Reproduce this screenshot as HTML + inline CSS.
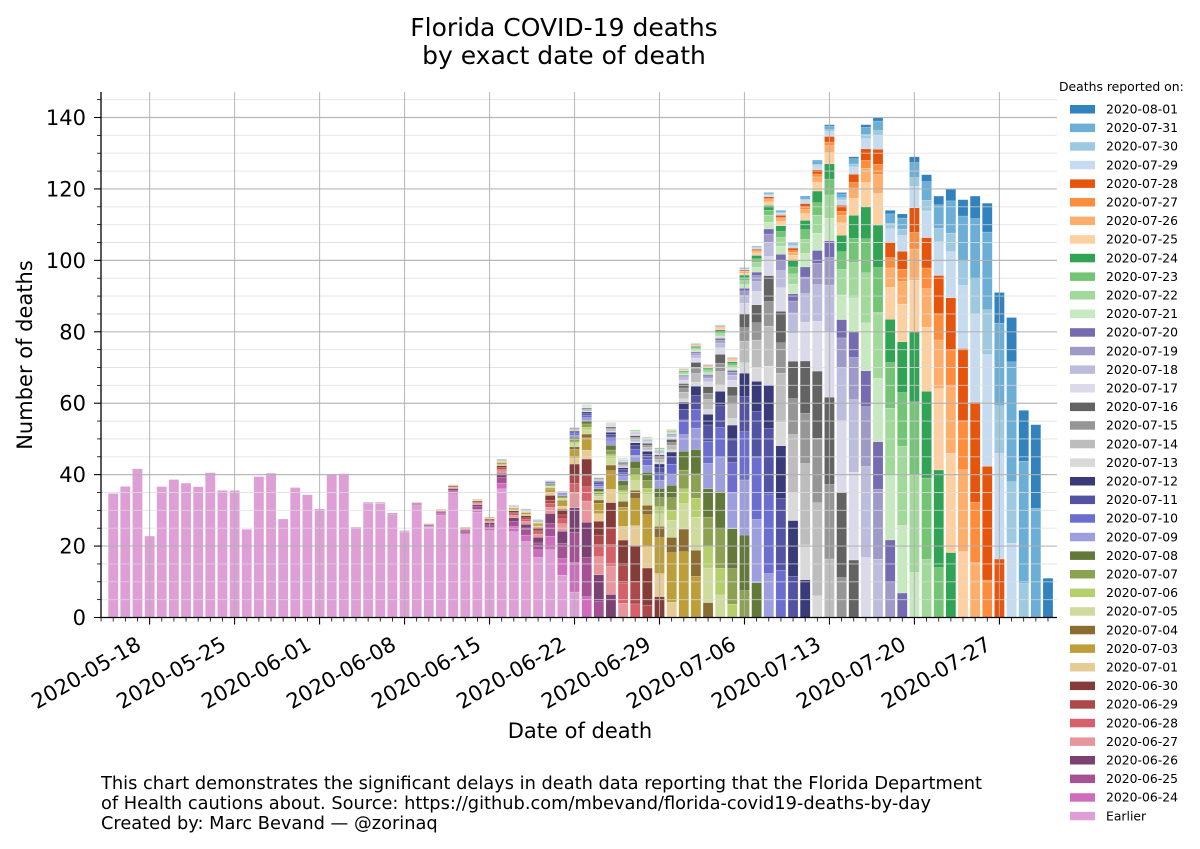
<!DOCTYPE html>
<html><head><meta charset="utf-8"><style>
html,body{margin:0;padding:0;background:#fff;}
svg{display:block;font-family:"DejaVu Sans","Liberation Sans",sans-serif;}
</style></head><body>
<svg id="s" width="1200" height="849" viewBox="0 0 1200 849" xmlns="http://www.w3.org/2000/svg">
<rect width="1200" height="849" fill="#fff"/>
<g id="bars"></g>
<g id="grid"></g>
<g id="axes"></g>
<text x="564" y="36" font-size="25" text-anchor="middle" fill="#000">Florida COVID-19 deaths</text>
<text x="564" y="64" font-size="25" text-anchor="middle" fill="#000">by exact date of death</text>
<text transform="translate(32,355) rotate(-90)" font-size="21" text-anchor="middle" fill="#000">Number of deaths</text>
<text x="580" y="738" font-size="21" text-anchor="middle" fill="#000">Date of death</text>
<text x="101" y="789" font-size="17.8" fill="#000">This chart demonstrates the significant delays in death data reporting that the Florida Department</text>
<text x="101" y="809" font-size="17.8" fill="#000">of Health cautions about. Source: https://github.com/mbevand/florida-covid19-deaths-by-day</text>
<text x="101" y="829" font-size="17.8" fill="#000">Created by: Marc Bevand — @zorinaq</text>
<text x="1059" y="91" font-size="12.4" fill="#000">Deaths reported on:</text>
<g id="legend"></g>
</svg>
<script>
(function(){
var NS="http://www.w3.org/2000/svg";
function el(p,t,a,txt){var e=document.createElementNS(NS,t);for(var k in a)e.setAttribute(k,a[k]);if(txt!=null)e.textContent=txt;p.appendChild(e);return e;}
var T=[35,37,42,23,37,39,38,37,41,36,36,25,40,41,28,37,35,31,41,41,26,33,33,30,25,33,27,31,38,26,34,29,45,32,31,28,39,36,54,
60,40,55,45,53,51,48,53,70,77,71,82,73,98,104,119,114,105,118,128,138,119,129,138,140,114,113,129,124,118,120,117,118,116,91,84,58,54,11];
var list=[
["2020-06-24",40,"#ce6dbd",0.7],["2020-06-25",41,"#a55194",0.8],["2020-06-26",42,"#7b4173",0.8],
["2020-06-27",43,"#e7969c",0.6],["2020-06-28",44,"#d6616b",0.5],["2020-06-29",45,"#ad494a",0.5],["2020-06-30",46,"#843c39",0.9],
["2020-07-01",47,"#e7cb94",0.6],["2020-07-03",49,"#bd9e39",1.3],["2020-07-04",50,"#8c6d31",0.5],
["2020-07-05",51,"#cedb9c",0.7],["2020-07-06",52,"#b5cf6b",0.5],["2020-07-07",53,"#8ca252",0.8],["2020-07-08",54,"#637939",1.0],
["2020-07-09",55,"#9c9ede",1.1],["2020-07-10",56,"#6b6ecf",1.2],["2020-07-11",57,"#5254a3",1.1],["2020-07-12",58,"#393b79",0.9],
["2020-07-13",59,"#d9d9d9",0.5],["2020-07-14",60,"#bdbdbd",1.3],["2020-07-15",61,"#969696",1.0],["2020-07-16",62,"#636363",1.3],
["2020-07-17",63,"#dadaeb",1.2],["2020-07-18",64,"#bcbddc",1.1],["2020-07-19",65,"#9e9ac8",0.8],["2020-07-20",66,"#756bb1",0.6],
["2020-07-21",67,"#c7e9c0",1.0],["2020-07-22",68,"#a1d99b",1.3],["2020-07-23",69,"#74c476",1.1],["2020-07-24",70,"#31a354",1.3],
["2020-07-25",71,"#fdd0a2",1.2],["2020-07-26",72,"#fdae6b",0.9],["2020-07-27",73,"#fd8d3c",0.6],["2020-07-28",74,"#e6550d",1.1],
["2020-07-29",75,"#c6dbef",1.2],["2020-07-30",76,"#9ecae1",0.6],["2020-07-31",77,"#6baed6",1.3],["2020-08-01",78,"#3182bd",0.6]];
function g(l){if(l<1)return 0;var v;if(l==1)v=0.6;else if(l==2)v=1;else v=0.9*Math.pow(0.8,l-3);return v+0.01*Math.exp(-l/30);}
var X0=113.2,P=12.14,Y0=617.5,S=3.5714,W=10;
var bars=document.getElementById("bars");
for(var d=0;d<T.length;d++){
  var segs=[];var E=0;for(var r=d+1;r<40;r++)E+=g(r-d);
  segs.push(["#de9ed6",E]);
  for(var i=0;i<list.length;i++){segs.push([list[i][2],list[i][3]*g(list[i][1]-d)]);}
  var sum=0;segs.forEach(function(s){sum+=s[1];});
  var y=Y0,x=X0+P*d-W/2;
  segs.forEach(function(s){var h=s[1]/sum*T[d]*S;if(h<0.3)return;
    el(bars,"rect",{x:x.toFixed(2),y:(y-h).toFixed(2),width:W,height:h.toFixed(2),fill:s[0],stroke:"#fff","stroke-width":0.3,"stroke-opacity":0.6});y-=h;});
}
var grid=document.getElementById("grid");
for(var v=5;v<=145;v+=5){var yy=Y0-v*S;var maj=(v%20==0);
  el(grid,"line",{x1:101,x2:1057,y1:yy,y2:yy,stroke:maj?"#b0b0b0":"#dcdcdc","stroke-width":maj?1.2:0.9,"stroke-opacity":maj?0.9:0.8});}
var ticks=["2020-05-18","2020-05-25","2020-06-01","2020-06-08","2020-06-15","2020-06-22","2020-06-29","2020-07-06","2020-07-13","2020-07-20","2020-07-27"];
var ax=document.getElementById("axes");
for(var k=0;k<ticks.length;k++){var tx=X0+P*(3+7*k);
  el(grid,"line",{x1:tx,x2:tx,y1:92,y2:Y0,stroke:"#b0b0b0","stroke-width":1.1,"stroke-opacity":0.85});
  el(ax,"line",{x1:tx,x2:tx,y1:Y0,y2:Y0+7,stroke:"#000","stroke-width":1.1});
  el(ax,"text",{transform:"translate("+(tx-7)+","+(Y0+31)+") rotate(-30)","font-size":21,"text-anchor":"end",fill:"#000"},ticks[k]);}
for(var d2=-1;d2<=79;d2++){var mx=X0+P*d2;if(mx<101||mx>1057)continue;
  el(ax,"line",{x1:mx,x2:mx,y1:Y0,y2:Y0+4,stroke:"#000","stroke-width":0.8});}
for(var v2=0;v2<=145;v2+=5){var yy2=Y0-v2*S;var mj=(v2%20==0);
  el(ax,"line",{x1:mj?94:97,x2:101,y1:yy2,y2:yy2,stroke:"#000","stroke-width":mj?1.1:0.8});
  if(mj)el(ax,"text",{x:86,y:yy2+7.5,"font-size":21,"text-anchor":"end",fill:"#000"},String(v2));}
el(ax,"line",{x1:101,x2:101,y1:92,y2:Y0+0.5,stroke:"#000","stroke-width":1.3});
el(ax,"line",{x1:100.5,x2:1057,y1:Y0,y2:Y0,stroke:"#000","stroke-width":1.3});
var lg=document.getElementById("legend");
var items=list.slice().reverse().map(function(a){return [a[0],a[2]];});items.push(["Earlier","#de9ed6"]);
for(var j=0;j<items.length;j++){var ly=109+18.6*j;
  el(lg,"rect",{x:1070,y:ly-4,width:25,height:8.5,fill:items[j][1]});
  el(lg,"text",{x:1106,y:ly+4.5,"font-size":12.4,fill:"#000"},items[j][0]);}
})();
</script>
</body></html>
